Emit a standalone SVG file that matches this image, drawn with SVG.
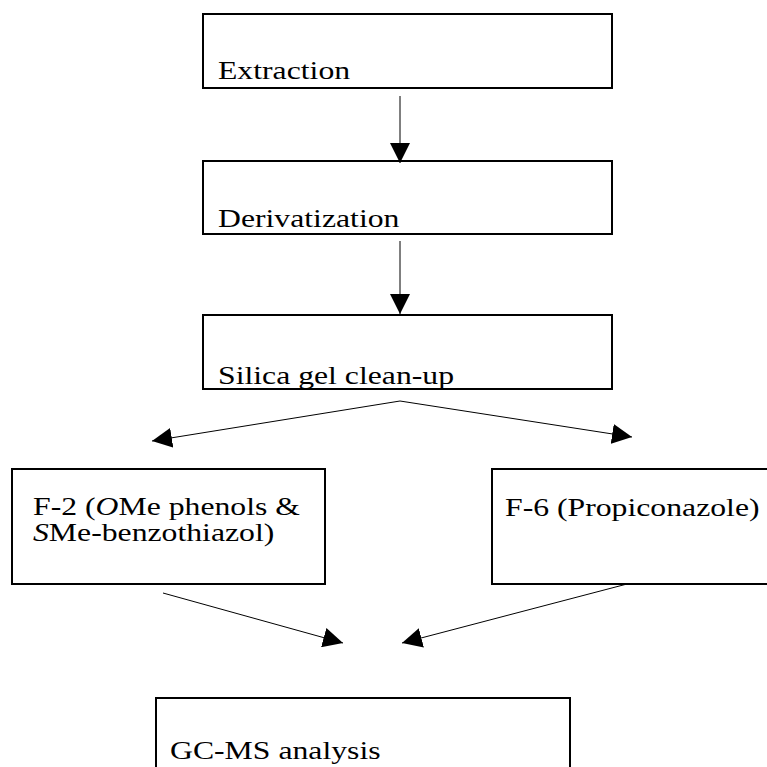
<svg xmlns="http://www.w3.org/2000/svg" width="767" height="767" viewBox="0 0 767 767">
<style>
.box{fill:#fff;stroke:#000;stroke-width:2}
.lbl{font-family:"Liberation Serif","Times New Roman",serif;font-size:26px;fill:#000}
.edge{stroke:#000;stroke-width:1;fill:none;marker-end:url(#ah)}
</style>
<defs>
<marker id="ah" markerUnits="userSpaceOnUse" markerWidth="20" markerHeight="20" refX="20" refY="10" orient="auto" viewBox="0 0 20 20">
<path d="M0,0 L20,10 L0,20 z" fill="#000"/>
</marker>
</defs>
<rect width="767" height="767" fill="#fff"/>
<g id="extraction">
<rect class="box" x="203" y="14" width="409" height="74"/>
<text class="lbl" transform="translate(218,79) scale(1.22,1)">Extraction</text>
</g>
<g id="derivatization">
<rect class="box" x="203" y="161" width="409" height="73"/>
<text class="lbl" transform="translate(218,227) scale(1.22,1)">Derivatization</text>
</g>
<g id="silica">
<rect class="box" x="203" y="315" width="409" height="74"/>
<text class="lbl" transform="translate(218,384) scale(1.22,1)">Silica gel clean-up</text>
</g>
<g id="f2">
<rect class="box" x="12" y="469" width="313" height="115"/>
<text class="lbl" transform="translate(33,515) scale(1.22,1)">F-2 (<tspan font-style="italic">O</tspan>Me phenols &amp;</text>
<text class="lbl" transform="translate(33,541) scale(1.22,1)"><tspan font-style="italic">S</tspan>Me-benzothiazol)</text>
</g>
<g id="f6">
<rect class="box" x="492" y="469" width="280" height="115"/>
<text class="lbl" transform="translate(505,516) scale(1.22,1)">F-6 (Propiconazole)</text>
</g>
<g id="gcms">
<rect class="box" x="156" y="698" width="414" height="80"/>
<text class="lbl" transform="translate(170,759) scale(1.22,1)">GC-MS analysis</text>
</g>
<g id="connectors">
<line class="edge" x1="400" y1="96" x2="400" y2="163"/>
<line class="edge" x1="400" y1="241" x2="400" y2="314"/>
<line class="edge" x1="400" y1="401" x2="152" y2="441"/>
<line class="edge" x1="400" y1="401" x2="632" y2="437"/>
<line class="edge" x1="163" y1="593" x2="343" y2="643"/>
<line class="edge" x1="627" y1="584" x2="402" y2="643"/>
</g>
</svg>
